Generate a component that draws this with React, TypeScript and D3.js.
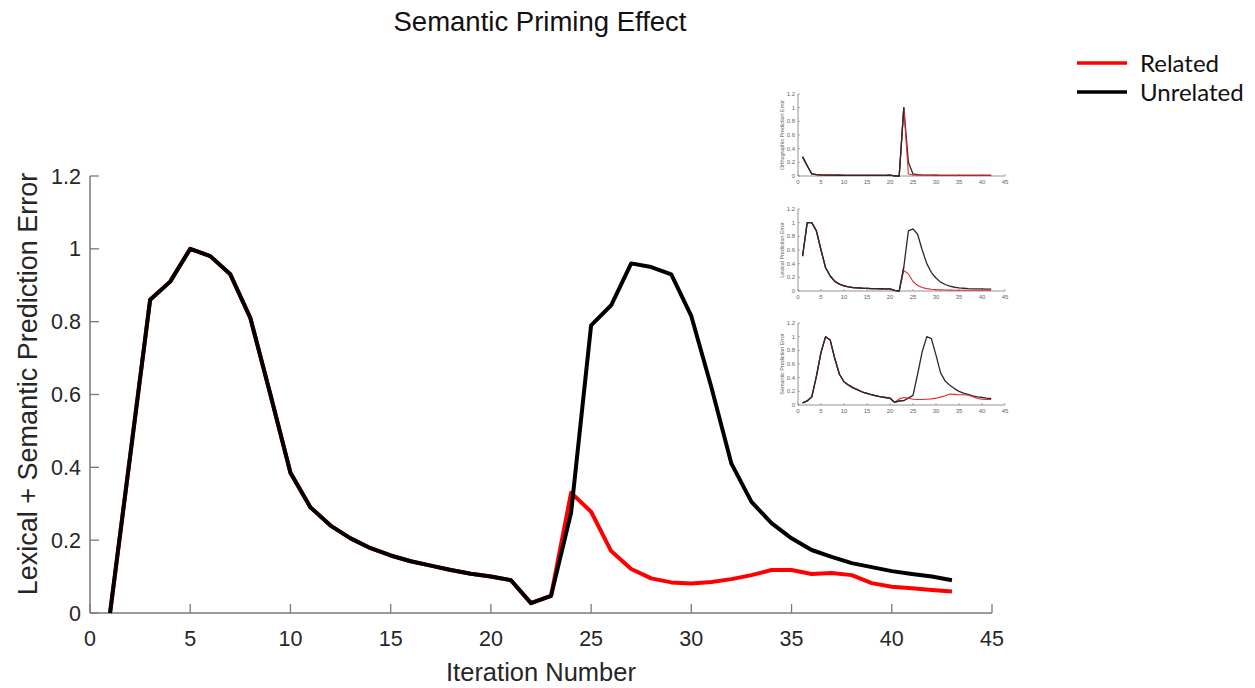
import React from "react";
import * as d3 from "d3";

// ---- Main chart data (iteration 1..43) ----
const iterations: number[] = d3.range(1, 44);
const unrelated: number[] = [
  0, 0.43, 0.86, 0.91, 1.0, 0.98, 0.93, 0.81, 0.6, 0.385,
  0.29, 0.24, 0.205, 0.178, 0.158, 0.142, 0.13, 0.118, 0.108, 0.1,
  0.09, 0.027, 0.047, 0.275, 0.79, 0.845, 0.96, 0.95, 0.93, 0.815,
  0.62, 0.41, 0.305, 0.247, 0.205, 0.173, 0.154, 0.137, 0.126, 0.115,
  0.107, 0.1, 0.09,
];
const related: number[] = [
  0, 0.43, 0.86, 0.91, 1.0, 0.98, 0.93, 0.81, 0.6, 0.385,
  0.29, 0.24, 0.205, 0.178, 0.158, 0.142, 0.13, 0.118, 0.108, 0.1,
  0.09, 0.027, 0.047, 0.33, 0.278, 0.17, 0.121, 0.095, 0.084, 0.081,
  0.085, 0.093, 0.104, 0.118, 0.118, 0.107, 0.11, 0.104, 0.082, 0.072,
  0.068, 0.063, 0.059,
];
const xTicks: number[] = [0, 5, 10, 15, 20, 25, 30, 35, 40, 45];
const yTicks: number[] = [0, 0.2, 0.4, 0.6, 0.8, 1, 1.2];

// ---- Inset data (iteration 1..42) ----
const insetIterations: number[] = d3.range(1, 43);
const orthoUnrelated: number[] = [
  0.28, 0.15, 0.03, 0.02, 0.016, 0.014, 0.013, 0.012, 0.011, 0.01,
  0.01, 0.01, 0.01, 0.01, 0.01, 0.01, 0.01, 0.01, 0.01, 0.012,
  0.002, 0.0, 1.0, 0.2, 0.03, 0.02, 0.016, 0.014, 0.012, 0.011,
  0.01, 0.01, 0.01, 0.01, 0.01, 0.01, 0.01, 0.01, 0.01, 0.01,
  0.01, 0.01,
];
const orthoRelated: number[] = [
  0.28, 0.15, 0.03, 0.02, 0.016, 0.014, 0.013, 0.012, 0.011, 0.01,
  0.01, 0.01, 0.01, 0.01, 0.01, 0.01, 0.01, 0.01, 0.01, 0.012,
  0.002, 0.0, 1.0, 0.03, 0.015, 0.012, 0.01, 0.01, 0.01, 0.01,
  0.01, 0.01, 0.01, 0.01, 0.01, 0.01, 0.01, 0.01, 0.01, 0.01,
  0.01, 0.01,
];
const lexUnrelated: number[] = [
  0.51, 1.0, 1.0, 0.88, 0.6, 0.34, 0.22, 0.14, 0.1, 0.075,
  0.06, 0.05, 0.045, 0.04, 0.038, 0.035, 0.034, 0.033, 0.032, 0.03,
  0.008, 0.0, 0.35, 0.88, 0.91, 0.83, 0.6, 0.4, 0.27, 0.19,
  0.13, 0.095, 0.07, 0.055, 0.045, 0.04, 0.035, 0.032, 0.03, 0.03,
  0.028, 0.027,
];
const lexRelated: number[] = [
  0.51, 1.0, 1.0, 0.88, 0.6, 0.34, 0.22, 0.14, 0.1, 0.075,
  0.06, 0.05, 0.045, 0.04, 0.038, 0.035, 0.034, 0.033, 0.032, 0.03,
  0.008, 0.0, 0.3, 0.25, 0.14, 0.08, 0.05, 0.035, 0.025, 0.02,
  0.017, 0.015, 0.013, 0.012, 0.012, 0.011, 0.011, 0.01, 0.01, 0.01,
  0.01, 0.01,
];
const semUnrelated: number[] = [
  0.03, 0.06, 0.12, 0.42, 0.77, 1.0, 0.95, 0.68, 0.45, 0.34,
  0.29, 0.25, 0.22, 0.19, 0.17, 0.15, 0.135, 0.12, 0.11, 0.1,
  0.04, 0.06, 0.065, 0.1, 0.14, 0.45, 0.78, 1.0, 0.97, 0.73,
  0.47, 0.35, 0.29, 0.24, 0.2, 0.175, 0.155, 0.135, 0.12, 0.11,
  0.1, 0.095,
];
const semRelated: number[] = [
  0.03, 0.06, 0.12, 0.42, 0.77, 1.0, 0.95, 0.68, 0.45, 0.34,
  0.29, 0.25, 0.22, 0.19, 0.17, 0.15, 0.135, 0.12, 0.11, 0.1,
  0.04, 0.09, 0.11, 0.1, 0.085, 0.08, 0.08, 0.085, 0.09, 0.1,
  0.115, 0.135, 0.16, 0.155, 0.15, 0.15, 0.145, 0.12, 0.095, 0.085,
  0.08, 0.08,
];
const insetYLabels: string[] = [
  "Orthographic Prediction Error",
  "Lexical Prediction Error",
  "Semantic Prediction Error",
];
const insetYTicks: number[] = [0, 0.2, 0.4, 0.6, 0.8, 1, 1.2];
const insetXTicks: number[] = [0, 5, 10, 15, 20, 25, 30, 35, 40, 45];
const legendLabels: string[] = ["Related", "Unrelated"];

const FONT = "'Liberation Sans', Arial, sans-serif";
const AXIS = "#7a7a7a";
const TEXT = "#262626";

function Inset({ top, label, unrel, rel }: { top: number; label: string; unrel: number[]; rel: number[] }) {
  const left = 798;
  const right = 1005;
  const bottom = top + 82;
  const x = d3.scaleLinear().domain([0, 45]).range([left, right]);
  const y = d3.scaleLinear().domain([0, 1.2]).range([bottom, top]);
  const line = d3
    .line<number>()
    .x((_, i) => x(insetIterations[i]))
    .y((d) => y(d));
  return (
    <g>
      <line x1={left} x2={right} y1={bottom} y2={bottom} stroke={AXIS} strokeWidth={0.8} />
      <line x1={left} x2={left} y1={bottom} y2={top} stroke={AXIS} strokeWidth={0.8} />
      {insetXTicks.map((t) => (
        <g key={"x" + t}>
          <line x1={x(t)} x2={x(t)} y1={bottom} y2={bottom - 2} stroke={AXIS} strokeWidth={0.6} />
          <text x={x(t)} y={bottom + 7.5} fontSize={6} textAnchor="middle" fill="#666" fontFamily={FONT}>
            {t}
          </text>
        </g>
      ))}
      {insetYTicks.map((t) => (
        <g key={"y" + t}>
          <line x1={left} x2={left + 2} y1={y(t)} y2={y(t)} stroke={AXIS} strokeWidth={0.6} />
          <text x={left - 3} y={y(t) + 2} fontSize={6} textAnchor="end" fill="#666" fontFamily={FONT}>
            {t}
          </text>
        </g>
      ))}
      <text
        transform={`translate(${left - 14},${(top + bottom) / 2}) rotate(-90)`}
        fontSize={5.4}
        textAnchor="middle"
        fill="#666"
        fontFamily={FONT}
      >
        {label}
      </text>
      <path d={line(unrel) || ""} fill="none" stroke="#2a2a2a" strokeWidth={1.3} strokeLinejoin="round" />
      <path d={line(rel) || ""} fill="none" stroke="#e8262a" strokeWidth={1.1} strokeLinejoin="round" />
      <path
        d={line(unrel.slice(0, 23)) || ""}
        fill="none"
        stroke="#2a2a2a"
        strokeWidth={1.3}
        strokeLinejoin="round"
      />
    </g>
  );
}

export default function App() {
  const W = 1255;
  const H = 688;
  const x = d3.scaleLinear().domain([0, 45]).range([90, 992]);
  const y = d3.scaleLinear().domain([0, 1.2]).range([613, 176]);
  const line = d3
    .line<number>()
    .x((_, i) => x(iterations[i]))
    .y((d) => y(d));

  return (
    <svg
      width={W}
      height={H}
      style={{ position: "absolute", left: 0, top: 0, background: "#fff" }}
    >
      <rect x={0} y={0} width={W} height={H} fill="#fff" />
      <text x={540} y={31} fontSize={27.5} textAnchor="middle" fill="#111" fontFamily={FONT}>
        Semantic Priming Effect
      </text>

      {/* axes */}
      <line x1={90} x2={992} y1={y(0)} y2={y(0)} stroke={AXIS} strokeWidth={1.5} />
      <line x1={90} x2={90} y1={y(0)} y2={y(1.2)} stroke={AXIS} strokeWidth={1.5} />
      {xTicks.map((t) => (
        <g key={"xt" + t}>
          <line x1={x(t)} x2={x(t)} y1={y(0)} y2={y(0) - 9} stroke={AXIS} strokeWidth={1.3} />
          <text x={x(t)} y={646} fontSize={21.5} textAnchor="middle" fill={TEXT} fontFamily={FONT}>
            {t}
          </text>
        </g>
      ))}
      {yTicks.map((t) => (
        <g key={"yt" + t}>
          <line x1={90} x2={99} y1={y(t)} y2={y(t)} stroke={AXIS} strokeWidth={1.3} />
          <text x={81} y={y(t) + 7.5} fontSize={21.5} textAnchor="end" fill={TEXT} fontFamily={FONT}>
            {t}
          </text>
        </g>
      ))}
      <text x={541} y={681} fontSize={25.5} textAnchor="middle" fill={TEXT} fontFamily={FONT}>
        Iteration Number
      </text>
      <text
        transform={`translate(37,384) rotate(-90)`}
        fontSize={27}
        textAnchor="middle"
        fill={TEXT}
        fontFamily={FONT}
      >
        Lexical + Semantic Prediction Error
      </text>

      {/* lines */}
      <path d={line(related) || ""} fill="none" stroke="#ff0000" strokeWidth={4} strokeLinejoin="round" />
      <path d={line(unrelated) || ""} fill="none" stroke="#000" strokeWidth={4} strokeLinejoin="round" />

      {/* insets */}
      <Inset top={94} label={insetYLabels[0]} unrel={orthoUnrelated} rel={orthoRelated} />
      <Inset top={209} label={insetYLabels[1]} unrel={lexUnrelated} rel={lexRelated} />
      <Inset top={323} label={insetYLabels[2]} unrel={semUnrelated} rel={semRelated} />

      {/* legend */}
      {legendLabels.map((lab, i) => (
        <g key={lab}>
          <line
            x1={1077}
            x2={1127}
            y1={63 + i * 29}
            y2={63 + i * 29}
            stroke={i === 0 ? "#ff0000" : "#000"}
            strokeWidth={3.5}
          />
          <text x={1140} y={72 + i * 29} fontSize={24} fill="#111" fontFamily="Lato, 'Open Sans', sans-serif">
            {lab}
          </text>
        </g>
      ))}
    </svg>
  );
}
